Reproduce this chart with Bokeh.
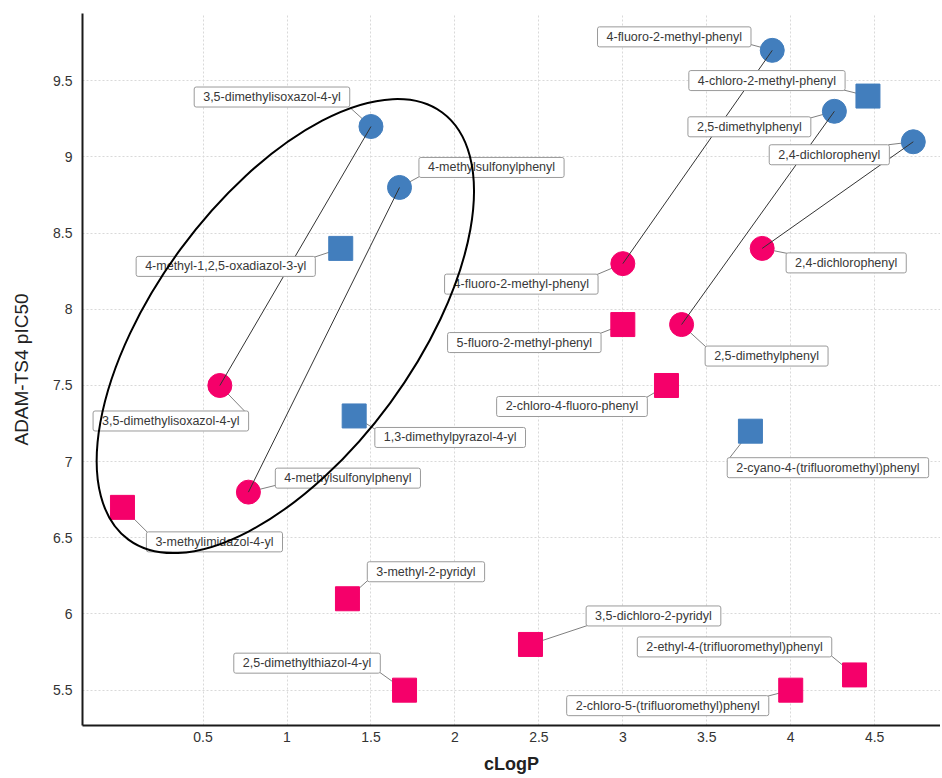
from bokeh.plotting import figure
from bokeh.models import ColumnDataSource, Range1d, FixedTicker, CustomJSTickFormatter
from bokeh.core.properties import value
from bokeh.embed import file_html
from bokeh.resources import INLINE

# ---------------- data ----------------
blue_names = ["3,5-dimethylisoxazol-4-yl", "4-methylsulfonylphenyl", "4-fluoro-2-methyl-phenyl",
              "2,5-dimethylphenyl", "2,4-dichlorophenyl", "4-methyl-1,2,5-oxadiazol-3-yl",
              "1,3-dimethylpyrazol-4-yl", "4-chloro-2-methyl-phenyl",
              "2-cyano-4-(trifluoromethyl)phenyl"]
blue_clogp = [1.50, 1.67, 3.89, 4.26, 4.73, 1.32, 1.40, 4.46, 3.76]
blue_pic50 = [9.20, 8.80, 9.70, 9.30, 9.10, 8.40, 7.30, 9.40, 7.20]
blue_shape = ["circle", "circle", "circle", "circle", "circle", "square", "square", "square", "square"]

pink_names = ["3,5-dimethylisoxazol-4-yl", "4-methylsulfonylphenyl", "4-fluoro-2-methyl-phenyl",
              "2,5-dimethylphenyl", "2,4-dichlorophenyl", "5-fluoro-2-methyl-phenyl",
              "2-chloro-4-fluoro-phenyl", "3-methylimidazol-4-yl", "3-methyl-2-pyridyl",
              "2,5-dimethylthiazol-4-yl", "3,5-dichloro-2-pyridyl",
              "2-chloro-5-(trifluoromethyl)phenyl", "2-ethyl-4-(trifluoromethyl)phenyl"]
pink_clogp = [0.60, 0.77, 3.00, 3.35, 3.83, 3.00, 3.26, 0.02, 1.36, 1.70, 2.45, 4.00, 4.38]
pink_pic50 = [7.50, 6.80, 8.30, 7.90, 8.40, 7.90, 7.50, 6.70, 6.10, 5.50, 5.80, 5.50, 5.60]
pink_shape = ["circle", "circle", "circle", "circle", "circle", "square", "square", "square",
              "square", "square", "square", "square", "square"]

x_ticks = [0.5, 1, 1.5, 2, 2.5, 3, 3.5, 4, 4.5]
y_ticks = [5.5, 6, 6.5, 7, 7.5, 8, 8.5, 9, 9.5]

# highlighted group (ellipse centre, data units)
highlight_center = (0.99, 7.89)

# ---------------- layout / style ----------------
W, H = 940, 776
BL, BR, BT, BB = 82, 0, 13, 49
X_START, X_END = -0.218, 4.892
Y_START, Y_END = 5.268, 9.942
FW, FH = W - BL - BR, H - BT - BB
SX = FW / (X_END - X_START)
SY = FH / (Y_END - Y_START)

BLUE = "#427EBD"
PINK = "#F5006A"

# label box centre offset (dx, dy) and leader end (lx, ly), screen px relative to marker
blue_lab = [(-99, -29.5, -21, -19), (92, -20, 20, -11), (-98, -13.5, -22, -6),
            (-85, 15.5, -25, 7), (-84, 13, -25, 3), (-115, 18, -27, 9),
            (96, 21.5, 22, 14), (-101, -15.5, -24, -6), (77.5, 36.5, -21, 27)]
pink_lab = [(-49, 35.5, 26, 27), (99.5, -14, 28, -7), (-101.5, 20.5, -26, 11),
            (85, 31.5, 25, 23), (84, 14.5, 25, 5), (-98.5, 18, -23, 9),
            (-94.5, 21, -20, 12), (92, 34.5, 25, 25), (78.5, -27, 21, -19),
            (-97.5, -27, -25, -18), (123, -28.5, 57, -19), (-123, 15.5, -23, 6),
            (-120, -28, -23, -19)]


def build(names, xs, ys, shapes, lab, color):
    return ColumnDataSource(dict(
        name=names, x=xs, y=ys, marker=shapes,
        color=[color] * len(names),
        dx=[l[0] for l in lab], dy=[l[1] for l in lab],
        lx=[x + l[2] / SX for x, l in zip(xs, lab)],
        ly=[y - l[3] / SY for y, l in zip(ys, lab)],
    ))


src_b = build(blue_names, blue_clogp, blue_pic50, blue_shape, blue_lab, BLUE)
src_p = build(pink_names, pink_clogp, pink_pic50, pink_shape, pink_lab, PINK)

# pair lines between same substituents (blue circle -> pink circle)
px0, py0, px1, py1 = [], [], [], []
for n, xb, yb, sb in zip(blue_names, blue_clogp, blue_pic50, blue_shape):
    if sb != "circle":
        continue
    for m, xp, yp, sp in zip(pink_names, pink_clogp, pink_pic50, pink_shape):
        if m == n and sp == "circle":
            px0.append(xb); py0.append(yb); px1.append(xp); py1.append(yp)

p = figure(width=W, height=H, output_backend="svg", toolbar_location=None,
           x_range=Range1d(X_START, X_END), y_range=Range1d(Y_START, Y_END),
           min_border_left=BL, min_border_right=BR, min_border_top=BT, min_border_bottom=BB)
p.outline_line_color = None
p.background_fill_color = "white"
p.border_fill_color = "white"

fmt = CustomJSTickFormatter(code="return tick.toString();")
for ax, ticks in ((p.xaxis[0], x_ticks), (p.yaxis[0], y_ticks)):
    ax.ticker = FixedTicker(ticks=ticks)
    ax.formatter = fmt
    ax.major_tick_out = 0
    ax.major_tick_in = 0
    ax.minor_tick_out = 0
    ax.minor_tick_in = 0
    ax.axis_line_color = "#1a1a1a"
    ax.axis_line_width = 2
    ax.major_label_text_font = "Liberation Sans"
    ax.major_label_text_font_size = "14px"
    ax.major_label_text_color = "#333333"
    ax.axis_label_text_font = "Liberation Sans"
    ax.axis_label_text_color = "#222222"

p.xaxis.axis_label = "cLogP"
p.xaxis.axis_label_text_font_style = "bold"
p.xaxis.axis_label_text_font_size = "18px"
p.xaxis.major_label_standoff = 6
p.xaxis.axis_label_standoff = 9

p.yaxis.axis_label = "ADAM-TS4 pIC50"
p.yaxis.axis_label_text_font_style = "normal"
p.yaxis.axis_label_text_font_size = "19px"
p.yaxis.major_label_standoff = 10
p.yaxis.axis_label_standoff = 18

for g in (p.xgrid[0], p.ygrid[0]):
    g.grid_line_color = "#d9d9d9"
    g.grid_line_dash = "2 2"
    g.grid_line_width = 1
p.xgrid.ticker = FixedTicker(ticks=x_ticks)
p.ygrid.ticker = FixedTicker(ticks=y_ticks)

# leaders
for s in (src_b, src_p):
    p.segment("x", "y", "lx", "ly", source=s, line_color="#808080", line_width=1)

# markers
for s in (src_b, src_p):
    p.scatter("x", "y", source=s, marker="marker", size=24,
              fill_color="color", line_color="color", line_width=1)

# pair lines
p.segment(px0, py0, px1, py1, line_color="#333333", line_width=1)

# labels
for s in (src_b, src_p):
    p.text("x", "y", text="name", source=s, x_offset="dx", y_offset="dy",
           text_align="center", text_baseline="middle",
           text_font=value("Liberation Sans"), text_font_size="12.5px", text_color="#383838",
           background_fill_color="white", border_line_color="#9a9a9a", border_line_width=1,
           padding=dict(left=9, right=9, top=3, bottom=3), border_radius=2)

# highlight ellipse
p.ellipse(x=[highlight_center[0]], y=[highlight_center[1]], width=530, height=260,
          width_units="screen", height_units="screen", angle=53.7, angle_units="deg",
          fill_color=None, line_color="black", line_width=2)

open("out.html", "w").write(file_html(p, INLINE))
